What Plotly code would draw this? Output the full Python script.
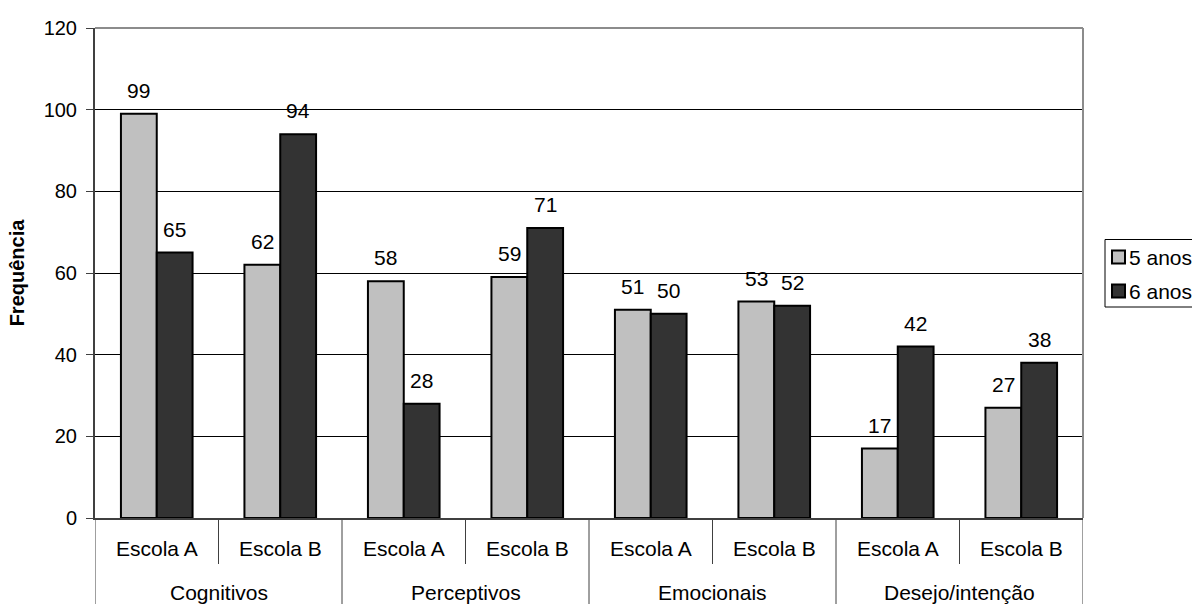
import plotly.graph_objects as go

groups = ["Cognitivos", "Perceptivos", "Emocionais", "Desejo/intenção"]
schools = ["Escola A", "Escola B"]
series_names = ["5 anos", "6 anos"]
anos5 = [99, 62, 58, 59, 51, 53, 17, 27]
anos6 = [65, 94, 28, 71, 50, 52, 42, 38]
y_ticks = [0, 20, 40, 60, 80, 100, 120]

FONT = "Arial, Liberation Sans, sans-serif"
FS = 21
TICK_FS = 20
BW = 0.29
COLORS = ["#C0C0C0", "#333333"]

# plot-area geometry in pixels, used to place items outside the axes
W, H = 1192, 604
ML, MR, MT, MB = 95, 109, 28, 86
PW, PH = W - ML - MR, H - MT - MB


def px_x(px):
    return (px - ML) / PW


def px_y(py):
    return (H - MB - py) / PH


n = len(anos5)
xs = list(range(n))
sub_labels = [schools[i % 2] for i in xs]

fig = go.Figure()
for k, (vals, name) in enumerate(zip([anos5, anos6], series_names)):
    fig.add_trace(go.Bar(
        x=xs, y=vals, name=name, width=BW, offset=-BW if k == 0 else 0,
        marker=dict(color=COLORS[k], line=dict(color="#000000", width=2)),
        showlegend=False,
    ))
    # value labels above the bars
    dx = -BW / 2 if k == 0 else BW / 2
    for i in xs:
        fig.add_annotation(x=i + dx, y=vals[i], text=str(vals[i]), showarrow=False,
                           xref="x", yref="y", yanchor="bottom", yshift=10,
                           font=dict(family=FONT, size=FS, color="#000"))

# two-level category labels
for i in xs:
    fig.add_annotation(x=i, y=px_y(548), text=sub_labels[i], showarrow=False,
                       xref="x", yref="paper", yanchor="middle",
                       font=dict(family=FONT, size=FS, color="#000"))
for g, name in enumerate(groups):
    fig.add_annotation(x=2 * g + 0.5, y=px_y(592), text=name, showarrow=False,
                       xref="x", yref="paper", yanchor="middle",
                       font=dict(family=FONT, size=FS, color="#000"))

# divider lines between categories
for g in range(len(groups)):
    fig.add_shape(type="line", xref="x", yref="paper", x0=2 * g + 0.5, x1=2 * g + 0.5,
                  y0=0, y1=px_y(564), line=dict(color="#404040", width=1))
for g in range(len(groups) + 1):
    fig.add_shape(type="line", xref="x", yref="paper", x0=2 * g - 0.5, x1=2 * g - 0.5,
                  y0=0, y1=px_y(610), line=dict(color="#404040", width=1))

# top and right frame of the plot area
fig.add_shape(type="line", xref="paper", yref="paper", x0=0, x1=1, y0=1, y1=1,
              line=dict(color="#8C8C8C", width=2))
fig.add_shape(type="line", xref="paper", yref="paper", x0=1, x1=1, y0=0, y1=1,
              line=dict(color="#8C8C8C", width=2))

# legend box
fig.add_shape(type="rect", xref="paper", yref="paper",
              x0=px_x(1105), x1=px_x(1215), y0=px_y(307), y1=px_y(239.5),
              line=dict(color="#000", width=1), fillcolor="white")
for k, name in enumerate(series_names):
    cy = 257 + 34 * k
    fig.add_shape(type="rect", xref="paper", yref="paper",
                  x0=px_x(1112), x1=px_x(1125), y0=px_y(cy + 6.5), y1=px_y(cy - 6.5),
                  line=dict(color="#000", width=2), fillcolor=COLORS[k])
    fig.add_annotation(x=px_x(1127), y=px_y(cy), text=name, showarrow=False,
                       xref="paper", yref="paper", xanchor="left", yanchor="middle",
                       font=dict(family=FONT, size=FS, color="#000"))

fig.update_layout(
    width=W, height=H,
    margin=dict(l=ML, r=MR, t=MT, b=MB),
    paper_bgcolor="white", plot_bgcolor="white",
    font=dict(family=FONT, size=FS, color="#000"),
    showlegend=False,
    barmode="overlay",
)
fig.update_xaxes(range=[-0.5, n - 0.5], showticklabels=False, showgrid=False,
                 zeroline=False, showline=True, linecolor="#404040", linewidth=2,
                 ticks="")
fig.update_yaxes(range=[0, 120], tickvals=y_ticks, showgrid=True,
                 gridcolor="#000000", gridwidth=1, zeroline=False,
                 showline=True, linecolor="#404040", linewidth=2,
                 ticks="outside", ticklen=7, tickcolor="#404040", tickwidth=1,
                 ticklabelstandoff=5,
                 tickfont=dict(family=FONT, size=TICK_FS),
                 title=dict(text="<b>Frequência</b>", standoff=14,
                            font=dict(family=FONT, size=20)))

fig.write_html("out.html")
